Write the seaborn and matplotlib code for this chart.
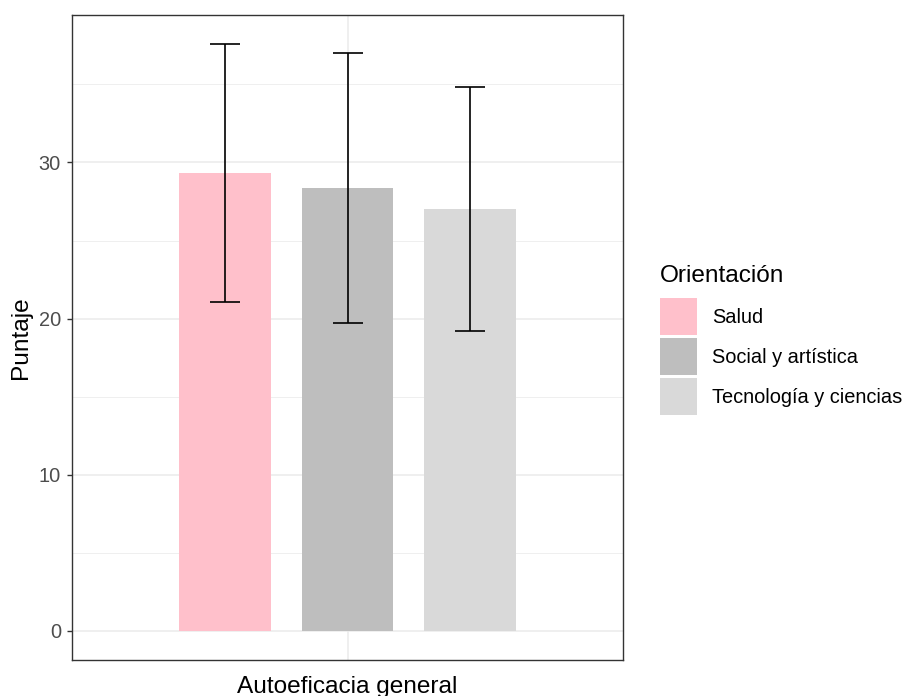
import matplotlib
matplotlib.use("Agg")
import matplotlib.pyplot as plt
from matplotlib.ticker import MultipleLocator
import numpy as np
import pandas as pd
import seaborn as sns

# datos
medida = ["Autoeficacia general"] * 3
orientacion = ["Salud", "Social y artística", "Tecnología y ciencias"]
media = [29.30, 28.36, 27.03]
sd = [8.27, 8.65, 7.80]
colores = ["#FFC0CB", "#BEBEBE", "#D9D9D9"]

df = pd.DataFrame({"Medida": medida, "Orientación": orientacion, "Puntaje": media})

sns.set_style("white")
plt.rcParams["font.family"] = ["Liberation Sans", "DejaVu Sans"]
plt.rcParams["text.color"] = "black"
plt.rcParams["axes.labelcolor"] = "black"

fig = plt.figure(figsize=(9.06, 6.96), dpi=100)
ax = fig.add_axes([72/906, 36/696, 551/906, 645/696])

sns.barplot(data=df, x="Medida", y="Puntaje", hue="Orientación",
            palette=dict(zip(orientacion, colores)), saturation=1,
            width=0.8, gap=0.25, errorbar=None, linewidth=0, ax=ax)

# barras de error sobre el centro de cada barra
bars = sorted(ax.patches[:3], key=lambda p: p.get_x())
xs = [p.get_x() + p.get_width()/2 for p in bars]
ax.errorbar(xs, media, yerr=sd, fmt="none", ecolor="black",
            elinewidth=1.2, capsize=10.8, capthick=1.2, zorder=5)

hi = max(np.array(media) + np.array(sd))
pad = 0.05 * hi
ax.set_ylim(-pad, hi + pad)
ax.set_xlim(-0.6, 0.6)

ax.yaxis.set_major_locator(MultipleLocator(10))
ax.yaxis.set_minor_locator(MultipleLocator(5))
ax.set_xticks([0])
ax.set_xticklabels([""])
ax.tick_params(axis="x", length=0)
ax.tick_params(axis="y", which="major", length=3.6, width=1, color="#333333",
               labelsize=14.4, labelcolor="#4D4D4D", pad=4.3, left=True)
ax.tick_params(axis="y", which="minor", length=0)

ax.set_axisbelow(True)
ax.grid(True, which="major", color="#EBEBEB", linewidth=1.1)
ax.grid(True, which="minor", axis="y", color="#EBEBEB", linewidth=0.55)
for s in ax.spines.values():
    s.set_visible(True)
    s.set_color("#333333")
    s.set_linewidth(1.0)

ax.set_ylabel("Puntaje", fontsize=17.6, labelpad=5)
ax.set_xlabel("Autoeficacia general", fontsize=17.6, labelpad=8)

handles, labels = ax.get_legend_handles_labels()
leg = ax.legend(handles, labels, title="Orientación", loc="upper left",
                bbox_to_anchor=(660/906, 1 - 265/696), bbox_transform=fig.transFigure,
                frameon=False, borderpad=0, fontsize=14.4, title_fontsize=17.6,
                handlelength=1.85, handleheight=2.47, labelspacing=0.15,
                handletextpad=0.75, alignment="left", borderaxespad=0,
                labelcolor="black")
# mas espacio entre titulo y claves
leg._legend_box.sep = 8

fig.savefig("out.png", dpi=100)
